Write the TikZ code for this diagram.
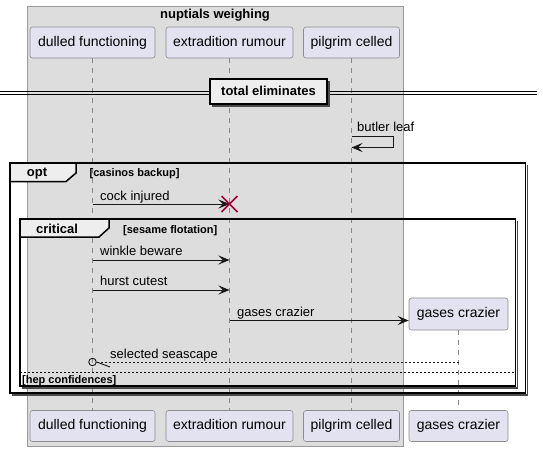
\documentclass[tikz,border=0pt]{standalone}
\usepackage{fontspec}
\setmainfont{Liberation Sans}
\usetikzlibrary{arrows.meta,calc}
\definecolor{grpfill}{HTML}{DDDDDD}
\definecolor{grpline}{HTML}{999999}
\definecolor{partfill}{HTML}{E2E2F0}
\definecolor{partline}{HTML}{8C8C8C}
\definecolor{tabfill}{HTML}{EEEEEE}
\definecolor{msg}{HTML}{181818}
\definecolor{destroycol}{HTML}{A80036}
\definecolor{lifecol}{HTML}{888888}
\definecolor{shade}{HTML}{4A4A4A}
\tikzset{
  part/.style={draw=partline, fill=partfill, rounded corners=2.5pt, line width=0.6pt,
    inner sep=0pt, minimum height=31pt, text height=10.5pt, text depth=3pt,
    font=\fontsize{14}{16}\selectfont},
  life/.style={draw=lifecol, line width=0.6pt, dash pattern=on 5pt off 5pt},
  msgline/.style={draw=msg, line width=0.9pt, -{Stealth[length=11pt,width=9pt,inset=4.5pt]}},
  retline/.style={draw=msg, line width=0.9pt, dash pattern=on 2pt off 2pt},
  msgtext/.style={anchor=base west, inner sep=0pt, font=\fontsize{13}{15}\selectfont},
  boldtext/.style={inner sep=0pt, font=\bfseries\fontsize{13}{15}\selectfont},
  condtext/.style={anchor=base west, inner sep=0pt, font=\bfseries\fontsize{11}{13}\selectfont},
  framel/.style={draw=black, line width=1.5pt},
  shadel/.style={draw=shade, line width=1.2pt},
  tabshape/.style={draw=black, fill=tabfill, line width=1.5pt},
}
\begin{document}
\begin{tikzpicture}[x=1pt,y=-1pt]
\useasboundingbox (0,0) rectangle (543,451);
% group box
\draw[draw=grpline, fill=grpfill, line width=0.8pt] (27,6) rectangle (403,446);
\node[boldtext, anchor=base] (gtitle) at (215,18.5) {nuptials weighing};

% participants top
\node[part, minimum width=125pt] (dt) at (92.5,42.5) {dulled functioning};
\node[part, minimum width=127pt] (et) at (229.5,42.5) {extradition rumour};
\node[part, minimum width=96pt] (pt) at (351.5,42.5) {pilgrim celled};
% participants bottom
\node[part, minimum width=125pt] (db) at (92.5,426) {dulled functioning};
\node[part, minimum width=127pt] (eb) at (229.5,426) {extradition rumour};
\node[part, minimum width=96pt] (pb) at (351.5,426) {pilgrim celled};
\node[part, minimum width=99pt] (gb) at (458.5,426) {gases crazier};
% created participant
\node[part, minimum width=99pt, minimum height=32pt] (gt) at (458.5,314) {gases crazier};

% lifelines
\draw[life] (dt.south) -- (db.north);
\draw[life] (et.south) -- (eb.north);
\draw[life] (pt.south) -- (pb.north);
\draw[life] (gt.south) -- (gb.north);

% divider
\draw[draw=black, line width=0.9pt] (0,91) -- (537,91);
\draw[draw=black, line width=0.9pt] (0,94.5) -- (537,94.5);
\draw[shadel] (329,81) -- (329,106) -- (212,106);
\node[draw=black, fill=tabfill, line width=1.5pt, inner sep=0pt,
      minimum width=117pt, minimum height=25pt, text height=9.5pt, text depth=2.5pt,
      font=\bfseries\fontsize{13}{15}\selectfont] (div) at (268.5,91.5) {total eliminates};

% self message butler leaf
\coordinate (p136) at (351.5,136);
\coordinate (s1) at (393,136);
\coordinate (s2) at (393,147.5);
\coordinate (p147) at (351.5,147.5);
\draw[msgline] (p136) -- (s1) -- (s2) -- (p147);
\node[msgtext] (lbutler) at (357,131.5) {butler leaf};

% opt frame
\draw[shadel] (527.5,165) -- (527.5,395) -- (12,395);
\draw[framel] (10,163) rectangle (525.5,393);
\draw[tabshape] (10,163) -- (76,163) -- (76,173) -- (66,181.5) -- (10,181.5) -- cycle;
\node[boldtext, anchor=base] (lopt) at (37,176.5) {opt};
\node[condtext] (lcas) at (89.5,176.5) {[casinos backup]};

% cock injured + destroy
\coordinate (d204) at (92.5,204);
\coordinate (e204) at (229.5,204);
\draw[msgline] (d204) -- (e204);
\node[msgtext] (lcock) at (100,200) {cock injured};
\draw[draw=destroycol, line width=1.5pt] ($(e204)+(-8,-8)$) -- ($(e204)+(8,8)$);
\draw[draw=destroycol, line width=1.5pt] ($(e204)+(-8,8)$) -- ($(e204)+(8,-8)$);

% critical frame
\draw[shadel] (517.5,221) -- (517.5,388) -- (22,388);
\draw[framel] (20,219) rectangle (515.5,386);
\draw[tabshape] (20,219) -- (109,219) -- (109,228) -- (99,237) -- (20,237) -- cycle;
\node[boldtext, anchor=base] (lcrit) at (57,233) {critical};
\node[condtext] (lses) at (123,233) {[sesame flotation]};

% winkle beware
\coordinate (d260) at (92.5,260);
\coordinate (e260) at (229.5,260);
\draw[msgline] (d260) -- (e260);
\node[msgtext] (lwink) at (100,255.5) {winkle beware};

% hurst cutest
\coordinate (d290) at (92.5,290);
\coordinate (e290) at (229.5,290);
\draw[msgline] (d290) -- (e290);
\node[msgtext] (lhurst) at (100,285.5) {hurst cutest};

% gases crazier create
\coordinate (e320) at (229.5,320.5);
\draw[msgline] (e320) -- (gt.west |- e320);
\node[msgtext] (lgases) at (237,316) {gases crazier};

% selected seascape (return)
\coordinate (g362) at (458.5,362.5);
\node[draw=msg, line width=0.9pt, circle, inner sep=0pt, minimum size=7.5pt] (circ) at (92.5,362) {};
\draw[retline] (g362) -- (circ.east |- g362);
\coordinate (barb) at (110,367);
\draw[draw=msg, line width=0.9pt] (circ.east) -- (barb);
\node[msgtext] (lsel) at (110,358) {selected seascape};

% else
\draw[draw=black, line width=0.8pt, dash pattern=on 2pt off 2pt] (20,372) -- (515.5,372);
\node[condtext] (lhep) at (22,383.5) {[hep confidences]};
\end{tikzpicture}
\end{document}
